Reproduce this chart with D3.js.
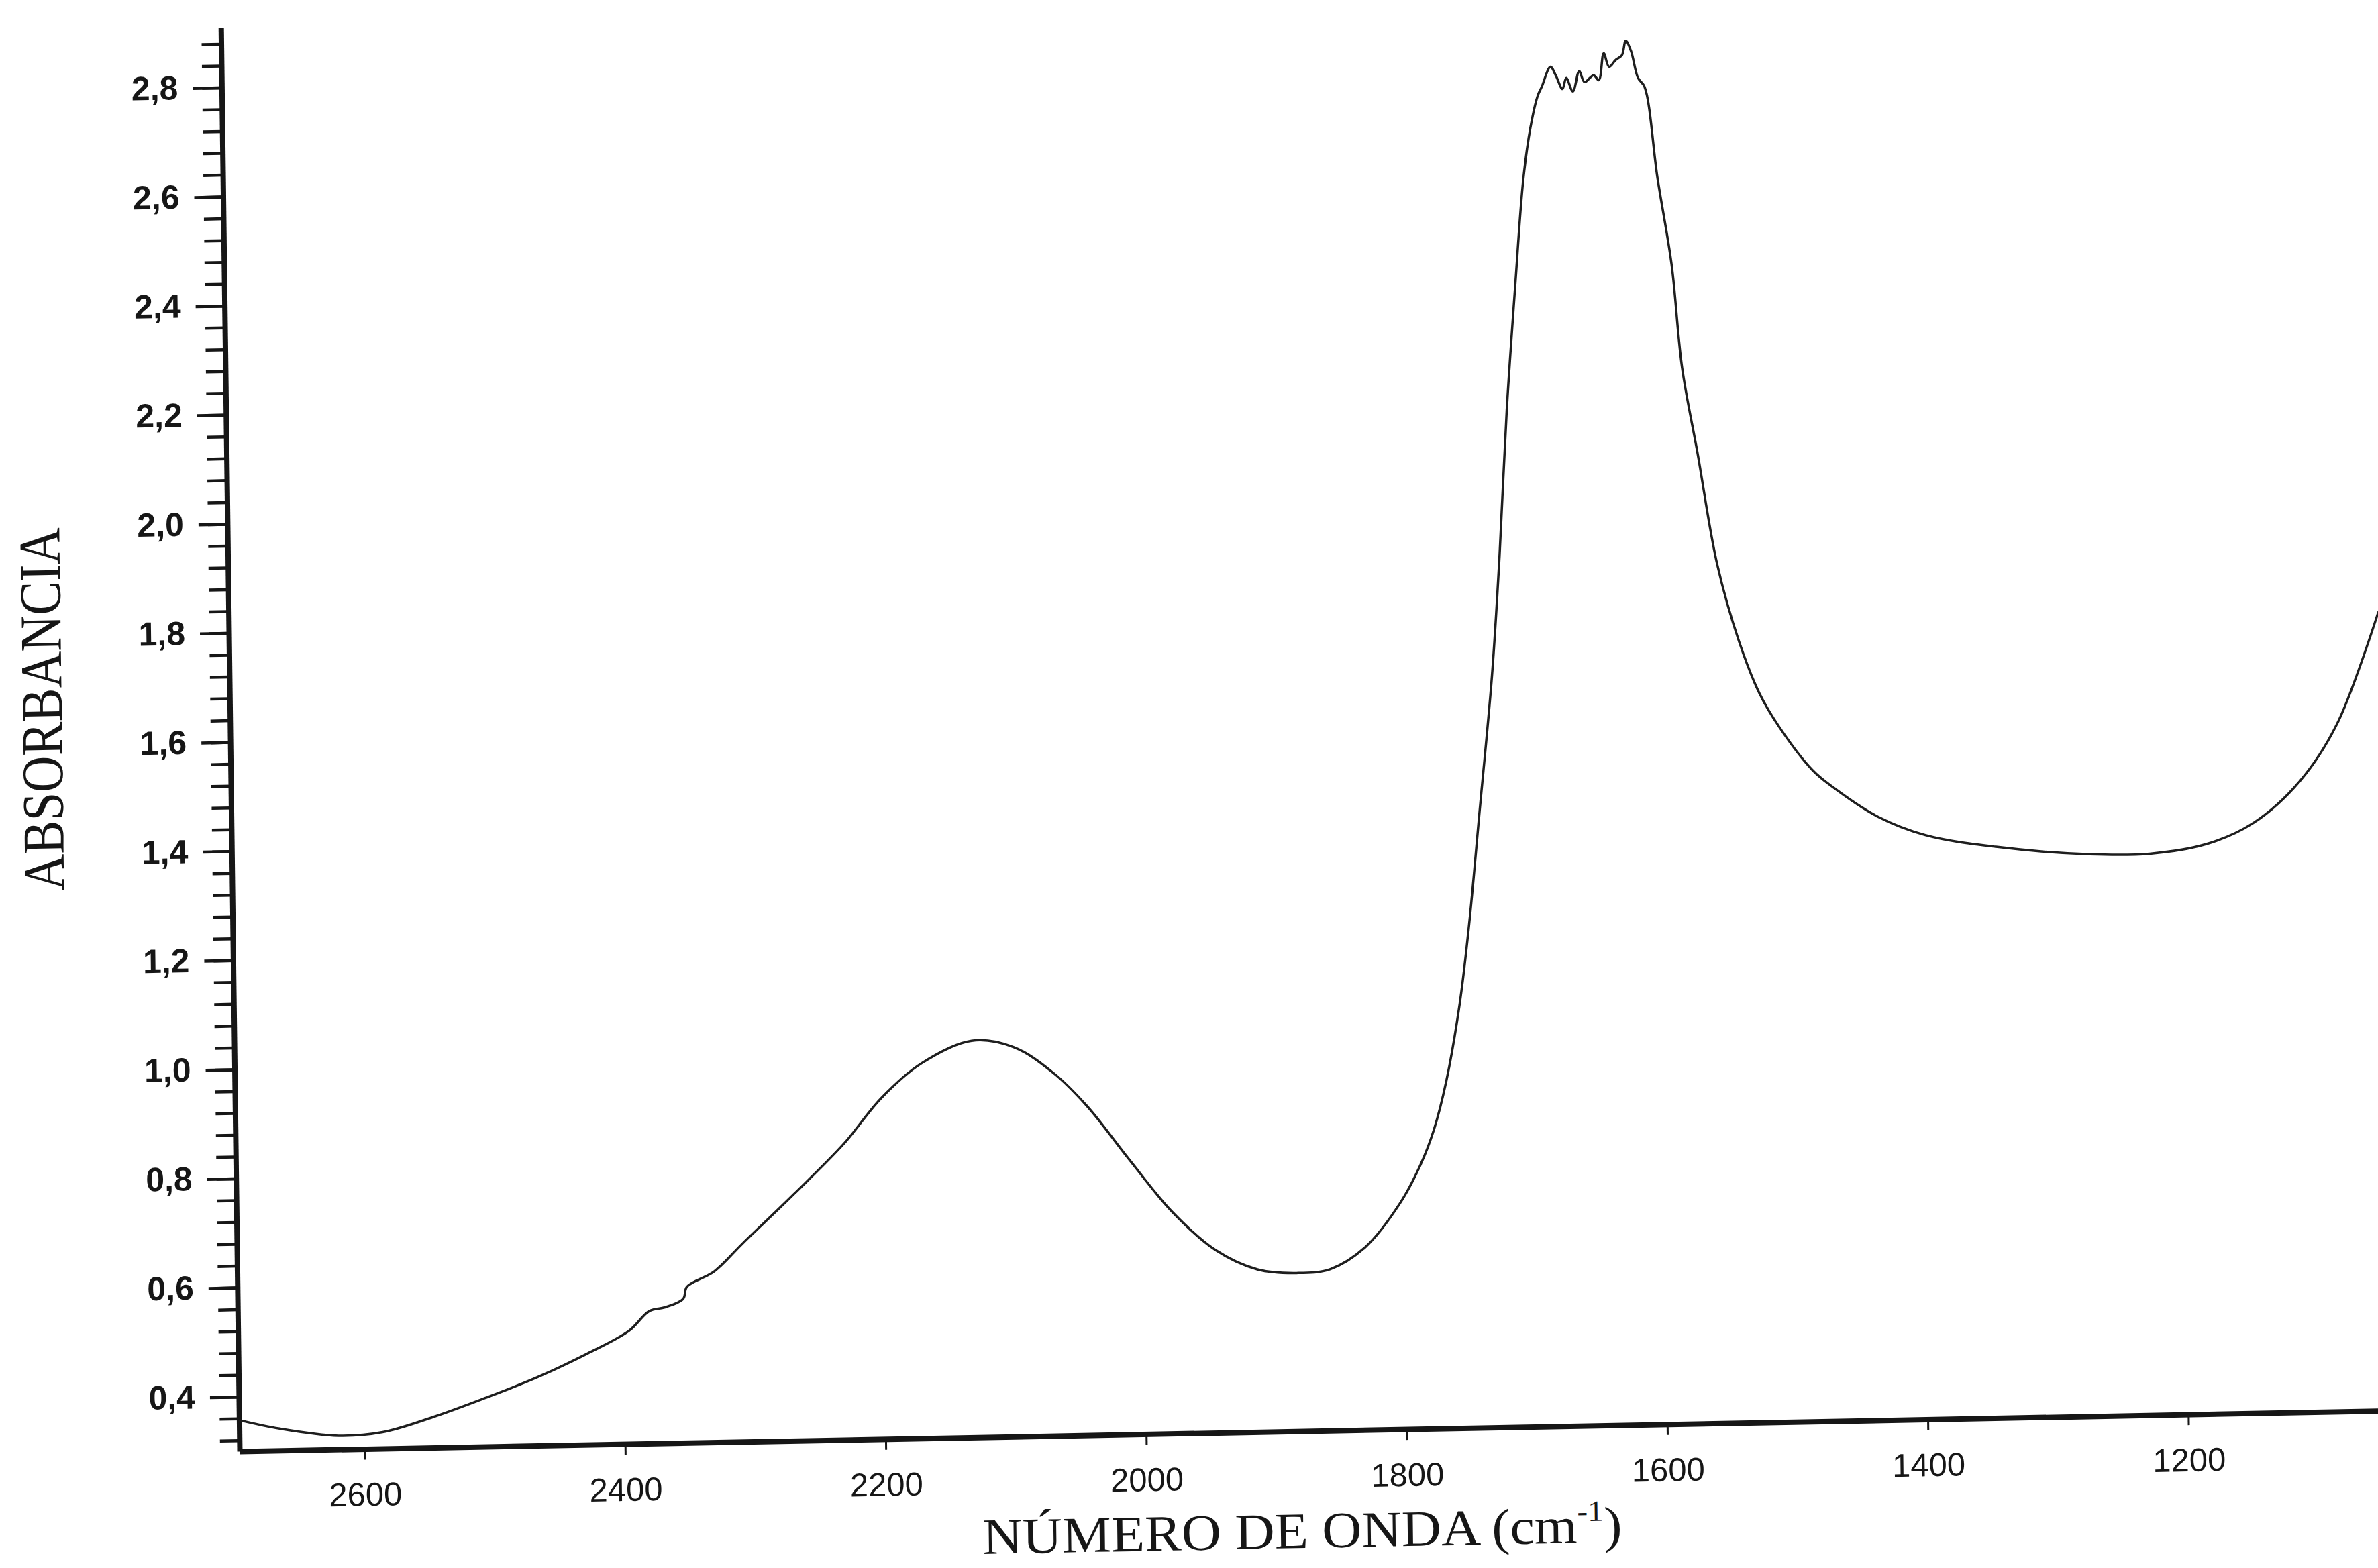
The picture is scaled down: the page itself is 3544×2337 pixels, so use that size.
<!DOCTYPE html>
<html>
<head>
<meta charset="utf-8">
<script src="https://cdn.jsdelivr.net/npm/d3@7"></script>
<style>
  body { margin: 0; background: #fff; }
  svg { display: block; }
</style>
</head>
<body>
<svg id="chart"></svg>
<script>
//spectrum (cm-1, absorbance)
const wavenumber = [2696, 2665, 2620, 2586, 2547, 2507, 2467, 2428, 2396, 2380, 2368, 2354, 2351, 2330, 2308, 2268, 2229, 2200, 2169, 2130, 2098, 2068, 2042, 2010, 1978, 1945, 1913, 1883, 1857, 1830, 1803, 1787, 1776, 1766, 1755, 1747, 1738, 1727, 1720, 1713, 1705, 1698, 1692, 1686, 1683, 1676, 1672, 1667, 1664, 1659, 1654, 1650, 1643, 1639, 1635, 1631, 1626, 1621, 1618, 1614, 1609, 1604, 1595, 1585, 1578, 1567, 1553, 1537, 1522, 1507, 1482, 1467, 1432, 1396, 1342, 1270, 1224, 1180, 1144, 1108, 1079, 1046];
const absorbance = [0.357, 0.340, 0.325, 0.330, 0.356, 0.389, 0.425, 0.467, 0.507, 0.543, 0.549, 0.564, 0.586, 0.613, 0.663, 0.752, 0.843, 0.925, 0.987, 1.027, 1.014, 0.966, 0.903, 0.803, 0.707, 0.635, 0.598, 0.590, 0.596, 0.635, 0.714, 0.783, 0.849, 0.938, 1.079, 1.224, 1.427, 1.678, 1.897, 2.164, 2.399, 2.586, 2.681, 2.740, 2.755, 2.792, 2.776, 2.751, 2.771, 2.746, 2.783, 2.763, 2.775, 2.766, 2.815, 2.790, 2.802, 2.811, 2.837, 2.818, 2.769, 2.752, 2.585, 2.425, 2.236, 2.079, 1.874, 1.732, 1.637, 1.574, 1.494, 1.463, 1.406, 1.371, 1.347, 1.330, 1.329, 1.345, 1.382, 1.457, 1.560, 1.765];

//axis ticks
const xTicks = [2600, 2400, 2200, 2000, 1800, 1600, 1400, 1200];
const yMajor = [0.4, 0.6, 0.8, 1.0, 1.2, 1.4, 1.6, 1.8, 2.0, 2.2, 2.4, 2.6, 2.8];
const yMinor = d3.range(8, 73).map(i => +(i * 0.04).toFixed(2));

const xTitle = "NÚMERO DE ONDA (cm";
const yTitle = "ABSORBANCIA";

const width = 3544;
const height = 2337;
//plot corner (origin of the axes) on the page
const ox = 357;
const oy = 2163;

const svg = d3.select("#chart")
  .attr("width", width)
  .attr("height", height)
  .attr("viewBox", [0, 0, width, height]);

svg.append("rect").attr("width", width).attr("height", height).attr("fill", "#fff");

//the scan is slightly crooked, so the whole plot is sheared a bit
const g = svg.append("g")
  .attr("transform", `translate(${ox},${oy}) matrix(1,-0.0189,0.0131,1,0,0) translate(${-ox},${-oy})`);

const x = d3.scaleLinear()
  .domain([2696, 1040])
  .range([ox, ox + 1656 * 1.9414]);

const y = d3.scaleLinear()
  .domain([0.3, 2.91])
  .range([oy, oy - 2.61 * 813]);

const ink = "#161616";

//minor y ticks
g.append("g")
  .attr("transform", `translate(${ox},0)`)
  .call(d3.axisLeft(y).tickValues(yMinor).tickSize(29).tickSizeOuter(0).tickFormat(""))
  .call(a => a.select(".domain").remove())
  .call(a => a.selectAll(".tick line").attr("stroke", ink).attr("stroke-width", 4.5));

//major y ticks + labels
g.append("g")
  .attr("transform", `translate(${ox},0)`)
  .call(d3.axisLeft(y).tickValues(yMajor).tickSize(43).tickSizeOuter(0).tickPadding(22)
    .tickFormat(d => d.toFixed(1).replace(".", ",")))
  .call(a => a.select(".domain").attr("stroke", ink).attr("stroke-width", 8))
  .call(a => a.selectAll(".tick line").attr("stroke", ink).attr("stroke-width", 4.5))
  .call(a => a.selectAll(".tick text")
    .attr("fill", ink)
    .attr("font-family", "'Liberation Sans', Arial, sans-serif")
    .attr("font-weight", "bold")
    .attr("font-size", 50));

//x axis
g.append("g")
  .attr("transform", `translate(0,${oy})`)
  .call(d3.axisBottom(x).tickValues(xTicks).tickSize(16).tickSizeOuter(0).tickPadding(34)
    .tickFormat(d3.format("d")))
  .call(a => a.select(".domain").attr("stroke", ink).attr("stroke-width", 8))
  .call(a => a.selectAll(".tick line").attr("stroke", ink).attr("stroke-width", 3))
  .call(a => a.selectAll(".tick text")
    .attr("fill", ink)
    .attr("font-family", "'Liberation Sans', Arial, sans-serif")
    .attr("font-size", 49));

//spectrum line
const line = d3.line()
  .x(d => x(d[0]))
  .y(d => y(d[1]))
  .curve(d3.curveCatmullRom.alpha(0.5));

g.append("path")
  .datum(d3.zip(wavenumber, absorbance))
  .attr("d", line)
  .attr("fill", "none")
  .attr("stroke", "#1e1e1e")
  .attr("stroke-width", 3.5)
  .attr("stroke-linejoin", "round");

//axis titles
g.append("text")
  .attr("transform", "translate(77,1052) rotate(-90)")
  .attr("text-anchor", "middle")
  .attr("dominant-baseline", "central")
  .attr("font-family", "'Liberation Serif', 'Times New Roman', serif")
  .attr("font-size", 88)
  .attr("textLength", 541)
  .attr("lengthAdjust", "spacingAndGlyphs")
  .attr("fill", ink)
  .text(yTitle);

const xt = g.append("text")
  .attr("x", 1939)
  .attr("y", 2337)
  .attr("text-anchor", "middle")
  .attr("font-family", "'Liberation Serif', 'Times New Roman', serif")
  .attr("font-size", 76)
  .attr("textLength", 953)
  .attr("lengthAdjust", "spacingAndGlyphs")
  .attr("fill", ink);
xt.append("tspan").text(xTitle);
xt.append("tspan").attr("font-size", 44).attr("dy", -32).text("-1");
xt.append("tspan").attr("dy", 32).text(")");
</script>
</body>
</html>
